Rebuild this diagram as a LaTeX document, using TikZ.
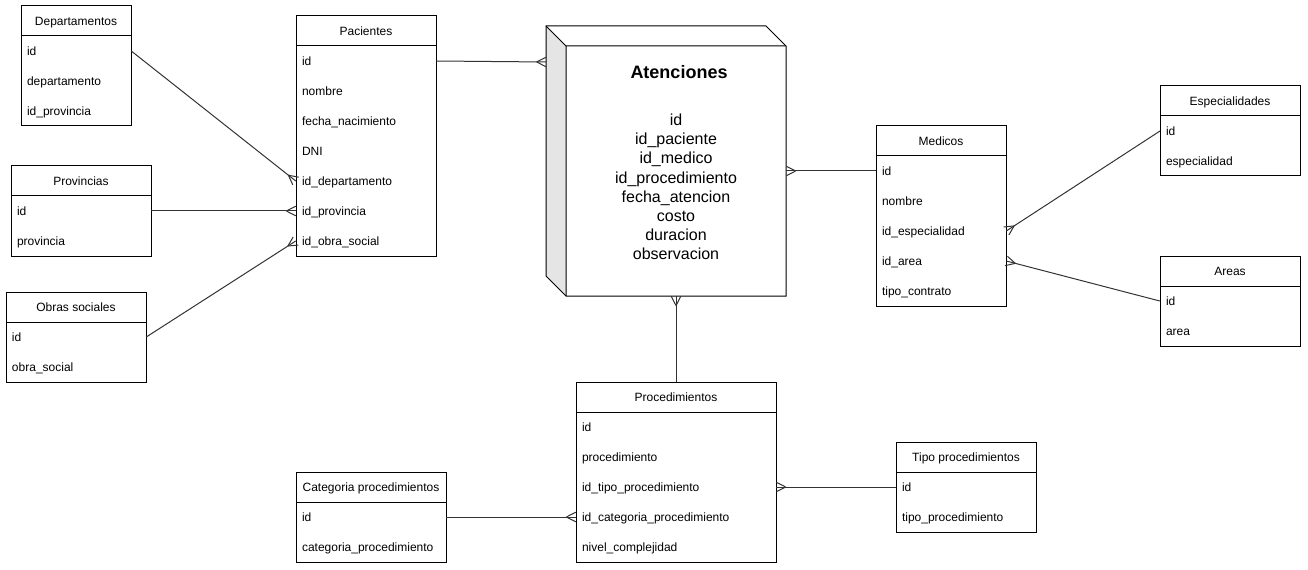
\documentclass[tikz,border=0pt]{standalone}
\usepackage{fontspec}
\setmainfont{Liberation Sans}
\usetikzlibrary{decorations.markings}
\tikzset{
  tline/.style={draw=black, line width=0.75pt},
  hdrtext/.style={inner sep=0pt, text height=6.5pt, text depth=0pt, font=\fontsize{9pt}{10.8pt}\selectfont},
  rowtext/.style={inner ysep=0pt, inner xsep=4.5pt, minimum height=22.5pt, align=left,
                  text height=6.5pt, text depth=0pt, font=\fontsize{9pt}{10.8pt}\selectfont},
  conn/.style={draw=black!80, line width=0.75pt},
  crow/.style={postaction={decorate, decoration={markings,
      mark=at position 1 with {\draw[draw=black!80, line width=0.75pt] (-7pt,0) -- (0,3.6pt) (-7pt,0) -- (0,-3.6pt);}}}},
}
% #1 name, #2 x, #3 y, #4 width, #5 title, #6 rows, #7 number of rows
\newcommand\ertable[7]{%
  \draw[tline] (#2,#3) rectangle ++(#4,{30+30*#7});
  \draw[tline] (#2,#3+30) -- ++(#4,0);
  \node[hdrtext] (#1) at ({#2+#4/2},{#3+15}) {#5};
  \pgfmathsetlengthmacro\ertw{(#4-12)*0.75pt}%
  \pgfmathsetlengthmacro\ermw{#4*0.75pt}%
  \foreach [count=\i] \k/\t in {#6} {
    \node[rowtext, text width=\ertw, minimum width=\ermw] (#1-\k) at ({#2+#4/2},{#3+15+30*\i}) {\t};
  }%
}
\begin{document}
\begin{tikzpicture}[x=0.75pt, y=-0.75pt]
\useasboundingbox (0,0) rectangle (1308,570);

\ertable{dep}{21}{6}{110}{Departamentos}{id/id, dep/departamento, prov/id\_provincia}{3}
\ertable{pac}{296}{16}{140}{Pacientes}{id/id, nom/nombre, fn/fecha\_nacimiento, dni/DNI, dep/id\_departamento, prov/id\_provincia, os/id\_obra\_social}{7}
\ertable{prv}{11}{166}{140}{Provincias}{id/id, prov/provincia}{2}
\ertable{obs}{6}{292}{140}{Obras sociales}{id/id, os/obra\_social}{2}
\ertable{med}{876}{126}{130}{Medicos}{id/id, nom/nombre, esp/id\_especialidad, area/id\_area, tc/tipo\_contrato}{5}
\ertable{esp}{1160}{86}{140}{Especialidades}{id/id, esp/especialidad}{2}
\ertable{ar}{1160}{256}{140}{Areas}{id/id, area/area}{2}
\ertable{proc}{576}{382}{200}{Procedimientos}{id/id, proc/procedimiento, tipo/id\_tipo\_procedimiento, cat/id\_categoria\_procedimiento, nc/nivel\_complejidad}{5}
\ertable{cat}{296}{472}{150}{Categoria procedimientos}{id/id, cat/categoria\_procedimiento}{2}
\ertable{tp}{896}{442}{140}{Tipo procedimientos}{id/id, tp/tipo\_procedimiento}{2}

% Atenciones cube
\fill[black!10] (546,26) -- (566,46) -- (566,296) -- (546,276) -- cycle;
\draw[tline, line join=miter] (546,26) -- (766,26) -- (786,46) -- (786,296) -- (566,296) -- (546,276) -- cycle;
\draw[tline] (546,26) -- (566,46) -- (786,46) (566,46) -- (566,296);
\node[inner sep=0pt, minimum width=165pt, minimum height=187.5pt] (at) at (676,171) {};
\coordinate (at-l) at (546,62);
\node[inner sep=0pt, font=\fontsize{13.5pt}{16pt}\selectfont\bfseries] (at-title) at (679,72) {Atenciones};
\node[inner sep=0pt, align=center, font=\fontsize{12pt}{14.4pt}\selectfont] (at-fields) at (676,187)
  {id\\id\_paciente\\id\_medico\\id\_procedimiento\\fecha\_atencion\\costo\\duracion\\observacion};

% connectors
\draw[conn, crow] (dep-id.east) -- (pac-dep.west);
\draw[conn, crow] (prv-id.east) -- (pac-prov.west);
\draw[conn, crow] (obs-id.east) -- (pac-os.west);
\draw[conn, crow] (pac-id.east) -- (at-l);
\draw[conn, crow] (med-id.west) -- (at.east);
\draw[conn, crow] (proc.north |- 0,382) -- (at.south);
\draw[conn, crow] (esp-id.east -| 1160,0) -- (med-esp.east);
\draw[conn, crow] (ar-id.west) -- (med-area.east);
\draw[conn, crow] (cat-id.east) -- (proc-cat.west);
\draw[conn, crow] (tp-id.west) -- (proc-tipo.east);
\end{tikzpicture}
\end{document}
